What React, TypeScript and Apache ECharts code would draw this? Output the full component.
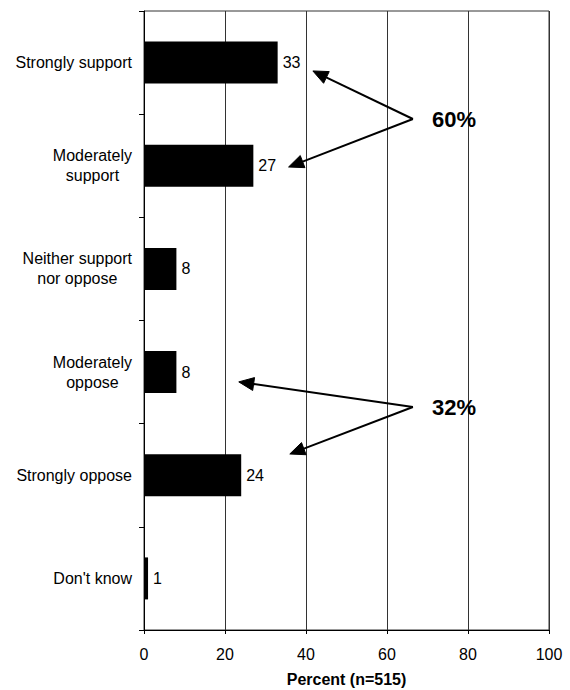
import React, { useEffect, useRef } from "react";
import * as echarts from "echarts";

const categories = [
  "Strongly support",
  "Moderately\nsupport",
  "Neither support\nnor oppose",
  "Moderately\noppose",
  "Strongly oppose",
  "Don't know",
];
const values = [33, 27, 8, 8, 24, 1];
const xTicks = [0, 20, 40, 60, 80, 100];
const axisTitle = "Percent (n=515)";

// Annotations in data space: x = percent, y = fractional category index
const annotations = [
  { text: "60%", vertex: [66.4, 0.547], tips: [[41.7, 0.081], [35.7, 1.012]], textPos: [71.1, 0.547] },
  { text: "32%", vertex: [66.4, 3.339], tips: [[23.4, 3.095], [36.0, 3.794]], textPos: [71.1, 3.348] },
];

const FONT = "'Liberation Sans', Arial, sans-serif";

export default function App() {
  const ref = useRef<HTMLDivElement>(null);
  useEffect(() => {
    if (!ref.current) return;
    const chart = echarts.init(ref.current, null, { renderer: "svg" });
    chart.setOption({
      animation: false,
      backgroundColor: "#ffffff",
      textStyle: { fontFamily: FONT },
      grid: {
        left: 144,
        right: 21,
        top: 11,
        bottom: 60,
        containLabel: false,
        outerBoundsMode: "none",
        show: true,
        borderColor: "#333",
        borderWidth: 1,
        backgroundColor: "transparent",
      },
      xAxis: {
        type: "value",
        min: xTicks[0],
        max: xTicks[xTicks.length - 1],
        interval: 20,
        name: axisTitle,
        nameLocation: "middle",
        nameGap: 41,
        nameTextStyle: { fontFamily: FONT, fontSize: 16, fontWeight: "bold", color: "#000" },
        axisLine: { show: true, lineStyle: { color: "#000", width: 1 } },
        axisTick: { show: true, length: 4, lineStyle: { color: "#000" } },
        axisLabel: { fontFamily: FONT, fontSize: 16, color: "#000", margin: 16 },
        splitLine: { show: true, lineStyle: { color: "#333", width: 1 } },
      },
      yAxis: {
        type: "category",
        inverse: true,
        data: categories,
        axisLine: { show: true, lineStyle: { color: "#000", width: 1 } },
        axisTick: { show: true, length: 5, lineStyle: { color: "#000" } },
        axisLabel: {
          fontFamily: FONT,
          fontSize: 16,
          color: "#000",
          margin: 12,
          lineHeight: 20,
          formatter: (v: string) =>
            v
              .split("\n")
              .map((s) => "{c|" + s + "}")
              .join("\n"),
          rich: {
            c: { align: "center", fontFamily: FONT, fontSize: 16, color: "#000", lineHeight: 20 },
          },
        },
        splitLine: { show: false },
      },
      series: [
        {
          type: "bar",
          data: values,
          barWidth: 42,
          itemStyle: { color: "#000" },
          label: {
            show: true,
            position: "right",
            distance: 5,
            fontFamily: FONT,
            fontSize: 16,
            color: "#000",
          },
        },
      ],
    });

    const px = (x: number) => chart.convertToPixel({ xAxisIndex: 0 }, x) as number;
    const py = (f: number) => {
      const n = categories.length;
      let i0 = Math.floor(f);
      if (i0 < 0) i0 = 0;
      if (i0 > n - 2) i0 = n - 2;
      const a = chart.convertToPixel({ yAxisIndex: 0 }, i0) as number;
      const b = chart.convertToPixel({ yAxisIndex: 0 }, i0 + 1) as number;
      return a + (f - i0) * (b - a);
    };

    const elements: any[] = [];
    const L = 15;
    const W = 6.5;
    annotations.forEach((an) => {
      const vx = px(an.vertex[0]);
      const vy = py(an.vertex[1]);
      an.tips.forEach((t) => {
        const tx = px(t[0]);
        const ty = py(t[1]);
        const dx = tx - vx;
        const dy = ty - vy;
        const len = Math.sqrt(dx * dx + dy * dy);
        const ux = dx / len;
        const uy = dy / len;
        const bx = tx - ux * L;
        const by = ty - uy * L;
        const nx = -uy;
        const ny = ux;
        elements.push({
          type: "line",
          shape: { x1: vx, y1: vy, x2: bx + ux * 2, y2: by + uy * 2 },
          style: { stroke: "#000", lineWidth: 2 },
          z: 100,
        });
        elements.push({
          type: "polygon",
          shape: {
            points: [
              [tx, ty],
              [bx + nx * W, by + ny * W],
              [bx - nx * W, by - ny * W],
            ],
          },
          style: { fill: "#000", stroke: "#000", lineWidth: 1 },
          z: 100,
        });
      });
      elements.push({
        type: "text",
        x: px(an.textPos[0]),
        y: py(an.textPos[1]),
        style: {
          text: an.text,
          fontFamily: FONT,
          fontSize: 22,
          fontWeight: "bold",
          fill: "#000",
          align: "left",
          verticalAlign: "middle",
        },
        z: 100,
      });
    });
    chart.setOption({ graphic: { elements } });

    return () => chart.dispose();
  }, []);
  return (
    <div
      ref={ref}
      style={{ position: "absolute", left: 0, top: 0, width: 570, height: 690 }}
    />
  );
}
